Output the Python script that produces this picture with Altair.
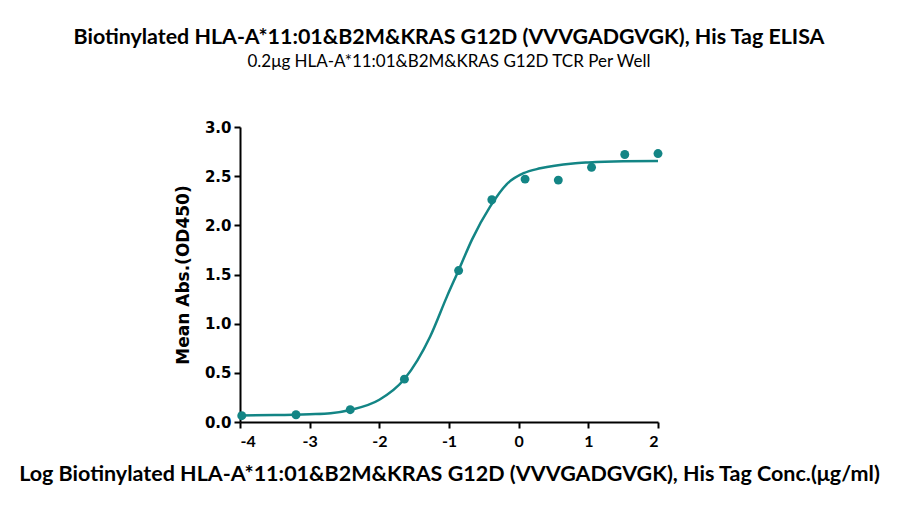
import altair as alt
import pandas as pd

# measured points (log conc, mean OD450)
log_conc = [-3.975, -3.196, -2.418, -1.640, -0.862, -0.385, 0.092, 0.569, 1.046, 1.523, 2.000]
od450 = [0.064, 0.074, 0.125, 0.436, 1.54, 2.26, 2.47, 2.46, 2.59, 2.72, 2.73]

# fitted curve
fit_x = [-4.0, -3.5, -3.0, -2.7, -2.4, -2.0, -1.64, -1.27, -1.03, -0.86, -0.67, -0.41, -0.17, 0.07, 0.31, 0.78, 1.0, 1.5, 2.0]
fit_y = [0.066, 0.07, 0.08, 0.09, 0.125, 0.226, 0.437, 0.87, 1.275, 1.546, 1.855, 2.19, 2.42, 2.53, 2.58, 2.63, 2.64, 2.652, 2.655]

TEAL = "#138585"
FONT = "Lato"
WIDE = "DejaVu Sans"

pts = pd.DataFrame({"x": log_conc, "y": od450})
fit = pd.DataFrame({"x": fit_x, "y": fit_y})

x_enc = alt.X("x:Q",
    scale=alt.Scale(domain=[-4, 2], nice=False, zero=False),
    axis=alt.Axis(values=[-4, -3, -2, -1, 0, 1, 2], labelExpr="toString(datum.value)",
                  labelFont=FONT, labelFontSize=16, labelPadding=5,
                  title="Log Biotinylated HLA-A*11:01&B2M&KRAS G12D (VVVGADGVGK), His Tag Conc.(μg/ml)",
                  titleFont=FONT, titleFontSize=21.5, titlePadding=14, titleLimit=900))
y_enc = alt.Y("y:Q",
    scale=alt.Scale(domain=[0, 3], nice=False),
    axis=alt.Axis(values=[0, 0.5, 1, 1.5, 2, 2.5, 3], format=".1f",
                  labelFont=WIDE, labelFontSize=15, labelPadding=3,
                  title="Mean Abs.(OD450)", titleFont=WIDE, titleFontSize=17, titlePadding=12))

line = alt.Chart(fit).mark_line(color=TEAL, strokeWidth=2.5, interpolate="monotone", clip=True).encode(x=x_enc, y=y_enc)
dots = alt.Chart(pts).mark_circle(color=TEAL, size=80, opacity=1).encode(x="x:Q", y="y:Q")

chart = alt.layer(line, dots).properties(
    width=418, height=295,
    autosize=alt.AutoSizeParams(type="none"),
    padding={"left": 232, "top": 119, "right": 226, "bottom": 72},
    title=alt.TitleParams(
        "Biotinylated HLA-A*11:01&B2M&KRAS G12D (VVVGADGVGK), His Tag ELISA",
        subtitle="0.2μg HLA-A*11:01&B2M&KRAS G12D TCR Per Well",
        font=FONT, fontSize=21.4, fontWeight="bold", color="black",
        subtitleFont=FONT, subtitleFontSize=17, subtitleColor="black",
        subtitlePadding=6, offset=50, anchor="middle", limit=900,
    ),
).configure_view(stroke=None).configure_axis(
    grid=False, domainColor="black", domainWidth=2, tickColor="black", tickWidth=2,
    tickSize=6, labelFontWeight="bold", labelColor="black",
    titleFontWeight="bold", titleColor="black",
)

chart.save("out.html", embed_options={"renderer": "svg", "actions": False})
